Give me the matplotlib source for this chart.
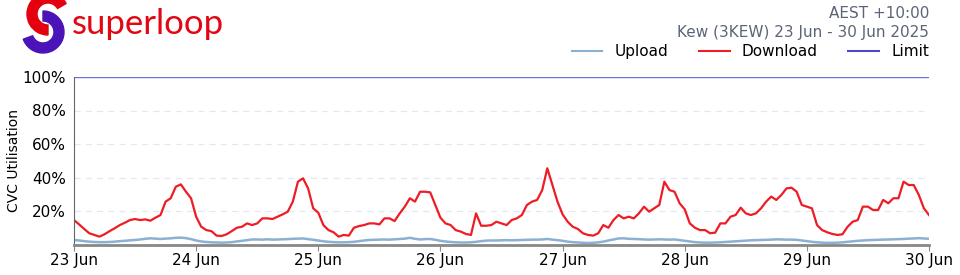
import matplotlib
matplotlib.use('Agg')
import matplotlib.pyplot as plt
from matplotlib.patches import Wedge
from matplotlib.lines import Line2D
import numpy as np

# hourly samples, 23 Jun 00:00 -> 30 Jun 00:00 (percent of CVC)
download = [14.6,12.0,9.3,6.7,5.7,4.7,6.1,8.0,9.7,11.6,13.0,14.6,15.2,14.6,15.0,14.2,16.0,17.6,25.6,27.6,34.5,35.9,31.5,27.6,
            16.6,10.6,8.6,8.0,5.3,5.1,6.1,8.0,10.0,10.6,12.6,11.6,12.6,15.6,15.6,15.2,16.6,18.0,19.6,25.6,37.5,39.5,33.5,21.6,
            19.0,11.6,8.6,7.3,4.7,5.7,5.3,10.0,11.0,11.6,12.6,12.6,12.0,15.6,15.6,14.0,18.6,22.6,27.6,25.6,31.5,31.5,31.1,23.6,
            16.0,12.6,11.6,8.6,7.7,6.3,5.7,18.6,11.2,11.2,11.6,13.6,12.6,11.6,14.6,15.6,17.6,23.6,25.6,26.6,32.5,45.5,35.5,25.6,
            18.0,13.6,10.6,9.3,6.7,5.7,5.3,6.7,11.6,10.0,14.6,17.6,15.6,16.6,15.6,18.6,22.6,19.6,21.6,23.6,37.5,32.5,31.5,24.6,
            21.0,12.6,10.0,8.6,8.6,6.7,7.1,12.6,12.6,16.6,17.6,22.0,18.6,17.6,18.6,21.6,25.6,28.6,26.6,29.6,33.5,33.9,31.5,23.6,
            22.6,21.6,11.6,8.6,7.3,6.3,5.7,6.1,10.6,13.6,14.6,22.6,22.6,20.6,20.6,26.6,24.6,27.6,27.6,37.5,35.5,35.5,29.6,21.6,
            17.6]
upload = [2.7,2.4,2.0,1.7,1.5,1.4,1.4,1.5,1.7,2.0,2.2,2.5,2.7,3.0,3.4,3.7,3.5,3.3,3.5,3.7,4.0,4.1,3.8,3.2,
          2.4,1.8,1.5,1.3,1.2,1.1,1.2,1.4,1.8,2.2,2.6,3.0,3.0,2.9,3.1,2.9,3.0,3.1,3.2,3.4,3.5,3.6,3.2,2.8,
          2.4,1.9,1.6,1.4,1.3,1.3,1.4,1.6,2.0,2.4,2.7,2.8,2.9,3.0,2.9,3.1,3.3,3.5,4.0,3.4,3.0,3.2,3.3,2.8,
          2.2,1.8,1.5,1.3,1.2,1.2,1.3,1.6,2.0,2.3,2.4,2.4,2.5,2.6,2.5,2.6,2.7,2.8,2.9,2.9,3.0,3.3,2.9,2.6,
          2.2,1.7,1.4,1.2,1.0,0.9,1.0,1.3,1.7,2.4,3.0,3.6,3.7,3.4,3.3,3.2,3.0,2.9,3.0,3.1,3.0,2.9,3.0,2.6,
          2.2,1.8,1.4,1.2,1.1,1.1,1.2,1.3,1.5,1.7,1.9,2.1,2.3,2.5,2.6,2.7,2.8,2.9,3.1,3.0,2.9,2.9,2.8,2.4,
          2.0,1.6,1.3,1.1,1.0,1.0,1.1,1.3,1.6,1.9,2.2,2.4,2.6,2.7,2.8,2.9,3.0,3.1,3.2,3.3,3.5,3.6,3.8,3.6,
          3.4]
limit = 100
day_labels = ['23 Jun','24 Jun','25 Jun','26 Jun','27 Jun','28 Jun','29 Jun','30 Jun']
y_ticks = [20, 40, 60, 80, 100]

up_col, dn_col, lim_col = '#8bb0d4', '#ee1c25', '#4a4ac4'

t = np.arange(len(download)) / 24.0

fig = plt.figure(figsize=(9.6, 2.75), dpi=100)
ax = fig.add_axes([74/960, 1-244.5/275, (929-74)/960, (244.5-77)/275])

ax.plot(t, upload, color=up_col, lw=1.8)
ax.plot(t, download, color=dn_col, lw=1.6)
ax.axhline(limit, color='#7070d8', lw=1.0)

ax.set_xlim(0, 7)
ax.set_ylim(0, 100)
ax.set_xticks(np.arange(len(day_labels)))
ax.set_xticklabels(day_labels, fontsize=11)
ax.set_yticks(y_ticks)
ax.set_yticklabels(['%d%%' % v for v in y_ticks], fontsize=11)
ax.tick_params(axis='y', length=0, pad=6)
ax.tick_params(axis='x', length=4, color='#888888', pad=2)
for v in y_ticks[:-1]:
    ax.axhline(v, color='#e3e9f1', lw=0.9, ls=(0, (5, 4)), zorder=0)
ax.spines['top'].set_visible(False)
ax.spines['right'].set_visible(False)
ax.spines['left'].set_color('#666666')
ax.spines['bottom'].set_color('#888888')
ax.spines['bottom'].set_linewidth(2)
ax.set_ylabel('CVC Utilisation', fontsize=10)
ax.yaxis.set_label_coords(-0.062, 0.5)

handles = [Line2D([], [], color=up_col, lw=1.5),
           Line2D([], [], color=dn_col, lw=1.5),
           Line2D([], [], color=lim_col, lw=1.5)]
ax.legend(handles, ['Upload', 'Download', 'Limit'], loc='lower right', bbox_to_anchor=(1.0, 1.108),
          ncol=3, frameon=False, fontsize=11, borderaxespad=0, borderpad=0,
          handlelength=2.0, columnspacing=2.0)

fig.text(929/960, 1-14/275, 'AEST +10:00', ha='right', va='center', fontsize=11, color='#5b6577')
fig.text(929/960, 1-32/275, 'Kew (3KEW) 23 Jun - 30 Jun 2025', ha='right', va='center',
         fontsize=11, color='#5b6577')

# logo
lax = fig.add_axes([0, 1-55/275, 75/960, 55/275])
lax.set_xlim(0, 75)
lax.set_ylim(55, 0)
lax.axis('off')
lax.add_patch(Wedge((48, 14), 21, 90, 330, width=10, color='#e3000f'))
lax.add_patch(Wedge((43, 32), 21, -90, 160, width=10, color='#4a14b8'))
fig.text(72/960, 1-34/275, 'superloop', fontsize=25, color='#e30613', family='Lato',
         ha='left', va='baseline')

plt.savefig('out.png', dpi=100)
